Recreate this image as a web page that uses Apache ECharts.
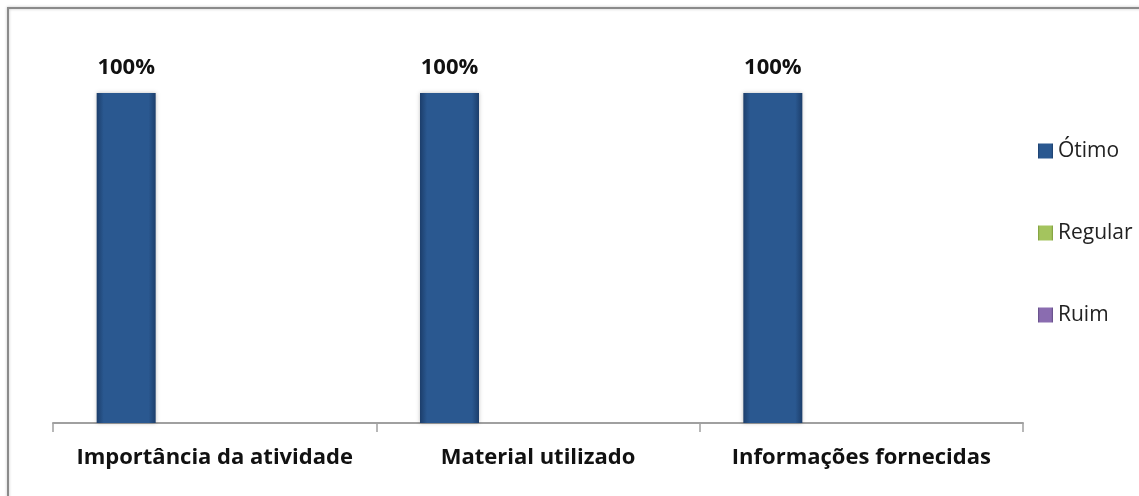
<!DOCTYPE html>
<html>
<head>
<meta charset="utf-8">
<script src="https://cdn.jsdelivr.net/npm/echarts@6/dist/echarts.min.js"></script>
<style>
  html, body { margin: 0; padding: 0; background: #fff; }
  #chart { width: 1139px; height: 496px; }
</style>
</head>
<body>
<div id="chart"></div>
<script>
// Avaliação das atividades (percentual de respostas)
const categories = ['Importância da atividade', 'Material utilizado', 'Informações fornecidas'];
const seriesNames = ['Ótimo', 'Regular', 'Ruim'];
const otimo = [100, 100, 100];
const regular = [0, 0, 0];
const ruim = [0, 0, 0];
// empty fourth slot kept in the layout, without legend entry
const bom = [null, null, null];

const colors = {
  'Ótimo': ['#1c3e6b', '#2a5890', '#1c3e6b'],
  'Regular': ['#7c9a3a', '#a4c45e', '#7c9a3a'],
  'Ruim': ['#5f4a82', '#8a6cb0', '#5f4a82'],
  'Bom': ['#8a3a38', '#c0504d', '#8a3a38']
};

function barGradient(name) {
  const c = colors[name];
  return new echarts.graphic.LinearGradient(0, 0, 1, 0, [
    { offset: 0, color: c[0] },
    { offset: 0.12, color: c[1] },
    { offset: 0.88, color: c[1] },
    { offset: 1, color: c[0] }
  ]);
}

function makeSeries(name, data, showLabel) {
  return {
    name: name,
    type: 'bar',
    data: data,
    barWidth: 59,
    barGap: '0%',
    itemStyle: {
      color: barGradient(name),
      shadowBlur: 4,
      shadowColor: 'rgba(0,0,0,0.25)'
    },
    label: {
      show: showLabel,
      position: 'top',
      distance: 14,
      formatter: '{c}%',
      fontFamily: 'Open Sans',
      fontWeight: 'bold',
      fontSize: 22,
      color: '#111'
    },
    emphasis: { disabled: true }
  };
}

const chart = echarts.init(document.getElementById('chart'));
chart.setOption({
  animation: false,
  backgroundColor: '#fff',
  graphic: [{
    type: 'rect',
    shape: { x: 8, y: 8, width: 1200, height: 600 },
    style: { fill: 'none', stroke: '#8a8a8a', lineWidth: 2, shadowBlur: 3, shadowColor: 'rgba(0,0,0,0.25)' },
    silent: true
  }],
  legend: {
    data: seriesNames.map(n => ({ name: n, icon: 'rect' })),
    orient: 'vertical',
    left: 1033,
    top: 135,
    itemWidth: 15,
    itemHeight: 15,
    itemGap: 60,
    textStyle: { fontFamily: 'Open Sans', fontSize: 21, lineHeight: 22, color: '#222' },
    selectedMode: false
  },
  grid: { left: 53, right: 116, top: 93, bottom: 73 },
  xAxis: {
    type: 'category',
    data: categories,
    axisLine: { lineStyle: { color: '#a0a0a0', width: 2 } },
    axisTick: { show: true, interval: 0, length: 9, lineStyle: { color: '#a0a0a0', width: 1.5 } },
    axisLabel: {
      interval: 0,
      hideOverlap: false,
      margin: 24,
      fontFamily: 'Open Sans',
      fontWeight: 'bold',
      fontSize: 22,
      color: '#111'
    }
  },
  yAxis: {
    type: 'value',
    min: 0,
    max: 100,
    show: false
  },
  series: [
    makeSeries('Ótimo', otimo, true),
    makeSeries('Regular', regular, false),
    makeSeries('Ruim', ruim, false),
    makeSeries('Bom', bom, false)
  ]
});
</script>
</body>
</html>
